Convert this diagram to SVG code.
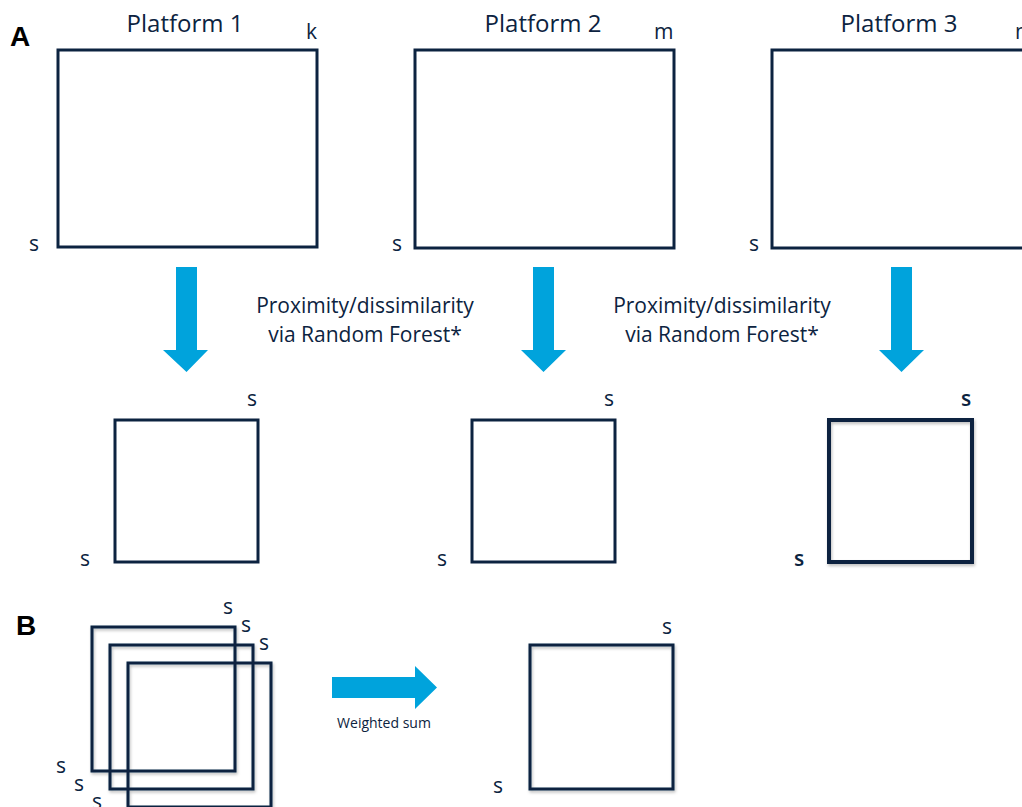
<svg xmlns="http://www.w3.org/2000/svg" width="1022" height="807" viewBox="0 0 1022 807">
  <defs>
    <filter id="soft" x="-10%" y="-10%" width="130%" height="130%">
      <feDropShadow dx="1" dy="2" stdDeviation="1.5" flood-color="#000" flood-opacity="0.25"/>
    </filter>
    <style>
      .frame { fill: none; stroke: #0c2340; stroke-width: 3; }
      .frame.heavy { stroke-width: 4; }
      .title { font-family: "Open Sans", "Noto Sans", sans-serif; font-size: 24px; fill: #0c2340; text-anchor: middle; }
      .dim { font-family: "Open Sans", "Noto Sans", sans-serif; font-size: 21px; fill: #0c2340; }
      .dim.bold { font-weight: 600; }
      .note { font-family: "Open Sans", "Noto Sans", sans-serif; font-size: 21px; fill: #0c2340; text-anchor: middle; }
      .small { font-family: "Open Sans", "Noto Sans", sans-serif; font-size: 14px; fill: #0c2340; text-anchor: middle; }
      .panel { font-family: "Liberation Sans", Arial, sans-serif; font-size: 28px; font-weight: bold; fill: #000; }
      .flow { fill: #00a3dc; }
    </style>
  </defs>
  <rect width="1022" height="807" fill="#fff"/>

  <!-- panel letters -->
  <text class="panel" x="10" y="46">A</text>
  <text class="panel" x="16" y="635">B</text>

  <!-- A: raw data matrices per platform -->
  <g id="platform1">
    <rect class="frame" x="58" y="50" width="259" height="197"/>
    <text class="title" x="185" y="32">Platform 1</text>
    <text class="dim" x="306" y="39">k</text>
    <text class="dim" x="29" y="251">s</text>
  </g>
  <g id="platform2">
    <rect class="frame" x="415" y="50" width="259" height="198"/>
    <text class="title" x="543" y="32">Platform 2</text>
    <text class="dim" x="654" y="39">m</text>
    <text class="dim" x="392" y="251">s</text>
  </g>
  <g id="platform3">
    <rect class="frame" x="772" y="50" width="270" height="198"/>
    <text class="title" x="899" y="32">Platform 3</text>
    <text class="dim" x="1015" y="39">n</text>
    <text class="dim" x="749" y="251">s</text>
  </g>

  <!-- A: resulting sample-by-sample proximity matrices -->
  <g id="proximity1">
    <rect class="frame" x="115" y="420" width="143" height="142"/>
    <text class="dim" x="247" y="406">s</text>
    <text class="dim" x="80" y="566">s</text>
  </g>
  <g id="proximity2">
    <rect class="frame" x="472" y="420" width="143" height="142"/>
    <text class="dim" x="604" y="406">s</text>
    <text class="dim" x="437" y="566">s</text>
  </g>
  <g id="proximity3">
    <rect class="frame heavy" x="829" y="420" width="143" height="142" filter="url(#soft)"/>
    <text class="dim bold" x="961" y="406">s</text>
    <text class="dim bold" x="794" y="566">s</text>
  </g>

  <!-- captions between the arrows -->
  <g id="caption1">
    <text class="note" x="365" y="313">Proximity/dissimilarity</text>
    <text class="note" x="365" y="342">via Random Forest*</text>
  </g>
  <g id="caption2">
    <text class="note" x="722" y="313">Proximity/dissimilarity</text>
    <text class="note" x="722" y="342">via Random Forest*</text>
  </g>

  <!-- B: stacked proximity matrices -->
  <g id="stack" filter="url(#soft)">
    <rect class="frame" x="92" y="627" width="143" height="144"/>
    <rect class="frame" x="110" y="645" width="143" height="144"/>
    <rect class="frame" x="128" y="663" width="143" height="144"/>
  </g>
  <g id="stack-labels">
    <text class="dim" x="223" y="614">s</text>
    <text class="dim" x="241" y="632">s</text>
    <text class="dim" x="259" y="650">s</text>
    <text class="dim" x="56" y="773">s</text>
    <text class="dim" x="74" y="791">s</text>
    <text class="dim" x="92" y="809">s</text>
  </g>

  <!-- B: combined matrix -->
  <g id="combined">
    <rect class="frame" x="530" y="645" width="143" height="144" filter="url(#soft)"/>
    <text class="dim" x="662" y="634">s</text>
    <text class="dim" x="493" y="793">s</text>
  </g>
  <g id="weighted-label">
    <text class="small" x="384" y="728">Weighted sum</text>
  </g>

  <!-- block arrows -->
  <g id="connectors">
    <polygon class="flow" points="176,267 197,267 197,350 208,350 186.5,372 163,350 176,350"/>
    <polygon class="flow" points="533,267 554,267 554,350 566,350 543.5,372 521,350 533,350"/>
    <polygon class="flow" points="891,267 912,267 912,350 924,350 901.5,372 879,350 891,350"/>
    <polygon class="flow" points="332,677 415,677 415,666 437,687.5 415,709 415,698 332,698"/>
  </g>
</svg>
